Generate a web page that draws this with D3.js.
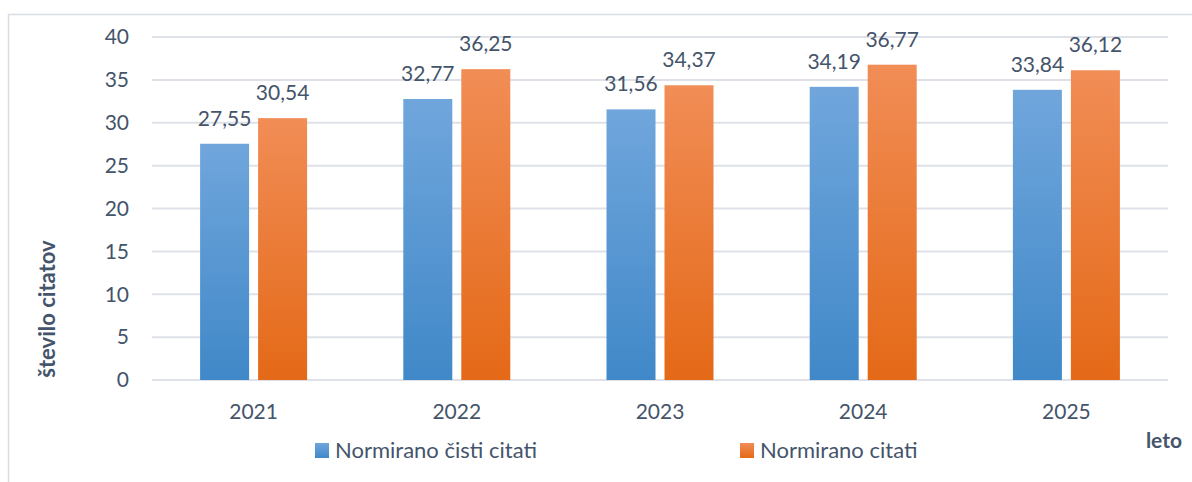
<!DOCTYPE html>
<html lang="sl">
<head>
<meta charset="UTF-8">
<title>Število citatov po letih</title>
<script src="https://cdnjs.cloudflare.com/ajax/libs/d3/7.8.5/d3.min.js"></script>
<style>
  body { margin: 0; background: #fff; }
  svg { display: block; font-family: Lato, "Open Sans", sans-serif; }
</style>
</head>
<body>
<svg id="chart" width="1192" height="482"></svg>
<script>
// data
const years = ["2021", "2022", "2023", "2024", "2025"];
const seriesNames = ["Normirano čisti citati", "Normirano citati"];
const cleanCitations = [27.55, 32.77, 31.56, 34.19, 33.84];
const allCitations = [30.54, 36.25, 34.37, 36.77, 36.12];
const yTicks = [0, 5, 10, 15, 20, 25, 30, 35, 40];

const textColor = "#44546a";
const plot = { left: 152, right: 1168, top: 37, bottom: 380 };

const svg = d3.select("#chart");

// gradients for bars
const defs = svg.append("defs");
const grads = [
  { id: "gBlue", top: "#70a6dc", bottom: "#4088c8" },
  { id: "gOrange", top: "#f18d56", bottom: "#e46917" }
];
grads.forEach(g => {
  const lg = defs.append("linearGradient").attr("id", g.id)
    .attr("x1", 0).attr("y1", 0).attr("x2", 0).attr("y2", 1);
  lg.append("stop").attr("offset", "0%").attr("stop-color", g.top);
  lg.append("stop").attr("offset", "100%").attr("stop-color", g.bottom);
});

// outer frame
svg.append("rect")
  .attr("x", 8.5).attr("y", 14.5)
  .attr("width", 1200).attr("height", 500)
  .attr("fill", "none").attr("stroke", "#d9dde3").attr("stroke-width", 1.5);

const x = d3.scaleBand().domain(years).range([plot.left, plot.right]);
const y = d3.scaleLinear().domain([0, 40]).range([plot.bottom, plot.top]);

// gridlines
svg.append("g").selectAll("line").data(yTicks).join("line")
  .attr("x1", plot.left).attr("x2", plot.right)
  .attr("y1", d => y(d)).attr("y2", d => y(d))
  .attr("stroke", "#dee2e8").attr("stroke-width", 2);

// y tick labels
svg.append("g").selectAll("text").data(yTicks).join("text")
  .attr("x", 129).attr("y", d => y(d))
  .attr("dy", "0.35em")
  .attr("text-anchor", "end")
  .attr("font-size", 21)
  .attr("fill", textColor)
  .text(d => d);

// bars
const barW = 49, gap = 9;
const series = [
  { name: seriesNames[0], values: cleanCitations, fill: "url(#gBlue)", off: -(gap / 2 + barW) },
  { name: seriesNames[1], values: allCitations, fill: "url(#gOrange)", off: gap / 2 }
];
const fmt = v => d3.format(".2f")(v).replace(".", ",");

series.forEach(s => {
  const g = svg.append("g");
  g.selectAll("rect").data(s.values).join("rect")
    .attr("x", (d, i) => x(years[i]) + x.bandwidth() / 2 + s.off)
    .attr("y", d => y(d))
    .attr("width", barW)
    .attr("height", d => y(0) - y(d))
    .attr("fill", s.fill);
  g.selectAll("text").data(s.values).join("text")
    .attr("x", (d, i) => x(years[i]) + x.bandwidth() / 2 + s.off + barW / 2)
    .attr("y", d => y(d) - 18)
    .attr("text-anchor", "middle")
    .attr("font-size", 21)
    .attr("fill", textColor)
    .text(fmt);
});

// x labels
svg.append("g").selectAll("text").data(years).join("text")
  .attr("x", d => x(d) + x.bandwidth() / 2)
  .attr("y", 419)
  .attr("text-anchor", "middle")
  .attr("font-size", 21)
  .attr("fill", textColor)
  .text(d => d);

// axis titles
svg.append("text")
  .attr("transform", "translate(55,309) rotate(-90)")
  .attr("text-anchor", "middle")
  .attr("font-size", 22)
  .attr("font-weight", "bold")
  .attr("fill", textColor)
  .text("število citatov");

svg.append("text")
  .attr("x", 1182).attr("y", 448)
  .attr("text-anchor", "end")
  .attr("font-size", 21)
  .attr("font-weight", "bold")
  .attr("fill", textColor)
  .text("leto");

// legend
const legendX = [315, 740];
const legend = svg.append("g").selectAll("g").data(series).join("g")
  .attr("transform", (d, i) => `translate(${legendX[i]},443)`);
legend.append("rect")
  .attr("width", 14).attr("height", 15)
  .attr("fill", d => d.fill);
legend.append("text")
  .attr("x", 20).attr("y", 15)
  .attr("font-size", 22)
  .attr("fill", textColor)
  .text(d => d.name);
</script>
</body>
</html>
